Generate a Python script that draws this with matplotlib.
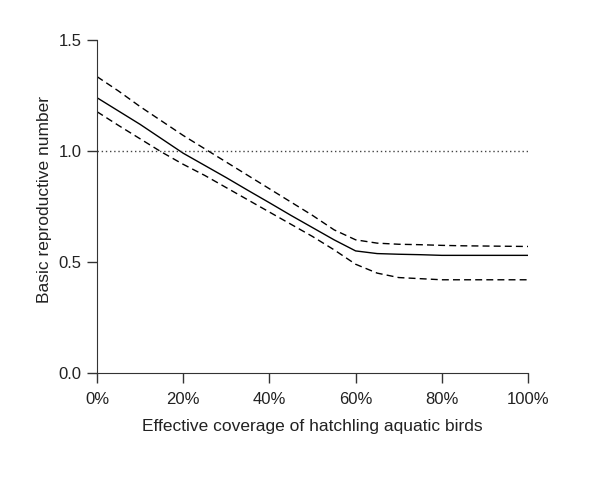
import numpy as np
import matplotlib.pyplot as plt

plt.rcParams['font.family'] = ['Liberation Sans', 'DejaVu Sans']

coverage = [0, 5, 10, 15, 20, 25, 30, 35, 40, 45, 50, 55, 60, 65, 70, 75, 80, 85, 90, 95, 100]
r0_mid = [1.24, 1.18, 1.12, 1.055, 0.99, 0.935, 0.88, 0.823, 0.767, 0.71, 0.655, 0.60,
          0.55, 0.538, 0.535, 0.533, 0.53, 0.53, 0.53, 0.53, 0.53]
r0_upper = [1.335, 1.27, 1.20, 1.135, 1.07, 1.01, 0.95, 0.89, 0.83, 0.77, 0.71, 0.645,
            0.60, 0.585, 0.58, 0.578, 0.575, 0.573, 0.572, 0.571, 0.57]
r0_lower = [1.177, 1.115, 1.055, 0.995, 0.94, 0.89, 0.835, 0.78, 0.725, 0.67, 0.615, 0.555,
            0.49, 0.45, 0.43, 0.425, 0.42, 0.42, 0.42, 0.42, 0.42]
xticks = [0, 20, 40, 60, 80, 100]
yticks = [0.0, 0.5, 1.0, 1.5]

fig = plt.figure(figsize=(6, 4.82), dpi=100)
ax = fig.add_axes([0.1617, 0.2261, 0.7183, 0.6909])

ax.plot(coverage, r0_mid, color='black', lw=1.0)
ax.plot(coverage, r0_upper, color='black', lw=1.0, ls=(0, (5, 3)))
ax.plot(coverage, r0_lower, color='black', lw=1.0, ls=(0, (5, 3)))
ax.plot([0, 100], [1.0, 1.0], color='#444444', lw=1.0, ls=(0, (1, 2)))

ax.set_xlim(0, 100)
ax.set_ylim(0, 1.5)
ax.set_xticks(xticks)
ax.set_xticklabels([f"{t}%" for t in xticks])
ax.set_yticks(yticks)
ax.set_yticklabels([f"{t:.1f}" for t in yticks])
ax.tick_params(direction='out', length=7, width=1, labelsize=12, colors='#333333')
ax.tick_params(axis='x', pad=7)
ax.tick_params(axis='y', pad=4)
ax.tick_params(labelcolor='#222222')

for s in ['top', 'right']:
    ax.spines[s].set_visible(False)
for s in ['left', 'bottom']:
    ax.spines[s].set_color('#333333')

ax.set_xlabel("Effective coverage of hatchling aquatic birds", fontsize=12.5, labelpad=8,
              color='#222222')
ax.set_ylabel("Basic reproductive number", fontsize=12.5, color='#222222')
ax.yaxis.set_label_coords(-0.104, 0.52)

fig.savefig("out.png", dpi=100)
